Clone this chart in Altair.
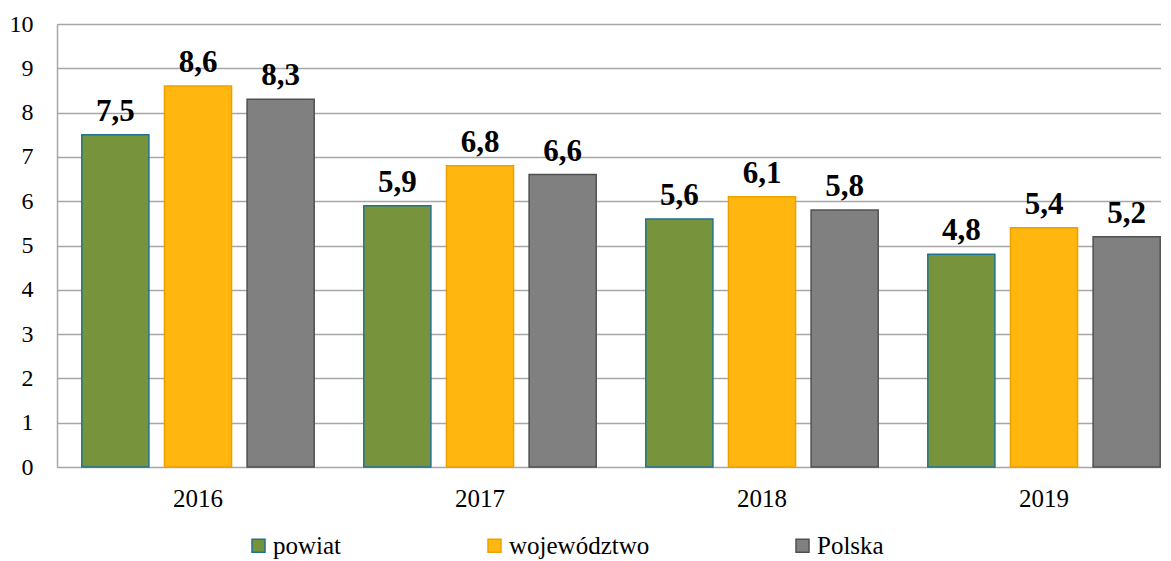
import altair as alt
import pandas as pd

years = ["2016", "2017", "2018", "2019"]
series = ["powiat", "województwo", "Polska"]
powiat = [7.5, 5.9, 5.6, 4.8]
wojewodztwo = [8.6, 6.8, 6.1, 5.4]
polska = [8.3, 6.6, 5.8, 5.2]

fills = ["#77933C", "#FFB60F", "#808080"]
strokes = ["#1F7391", "#EBA200", "#505050"]

rows = []
for name, vals in zip(series, [powiat, wojewodztwo, polska]):
    for y, v in zip(years, vals):
        rows.append({"rok": y, "seria": name, "wartosc": v,
                     "etykieta": f"{v:.1f}".replace(".", ",")})
df = pd.DataFrame(rows)

SERIF = "'Liberation Serif', 'Times New Roman', serif"

x_enc = alt.X("rok:N", sort=years, title=None,
              scale=alt.Scale(range=[0, 1128], paddingInner=0, paddingOuter=0),
              axis=alt.Axis(labelAngle=0, domain=False, ticks=False, labelPadding=19,
                            labelFont=SERIF, labelFontSize=25, labelColor="#000000"))
xoff = alt.XOffset("seria:N", sort=series,
                   scale=alt.Scale(paddingInner=0.188, paddingOuter=0.3))
y_enc = alt.Y("wartosc:Q", title=None,
              scale=alt.Scale(domain=[0, 10], nice=False),
              axis=alt.Axis(values=list(range(0, 11)), ticks=False, labelPadding=24,
                            domain=True, domainColor="#A6A6A6", domainWidth=1.5,
                            grid=True, gridColor="#A6A6A6", gridWidth=1.5,
                            labelFont=SERIF, labelFontSize=24, labelColor="#000000"))

bars = alt.Chart(df).mark_bar(strokeWidth=1.5).encode(
    x=x_enc,
    xOffset=xoff,
    y=y_enc,
    fill=alt.Fill("seria:N", sort=series,
                  scale=alt.Scale(domain=series, range=fills),
                  legend=alt.Legend(title=None, orient="none", direction="horizontal",
                                    legendX=189, legendY=509,
                                    symbolType="square", symbolSize=169,
                                    symbolStrokeWidth=1.5, symbolOpacity=1,
                                    labelFont=SERIF, labelFontSize=25,
                                    labelColor="#000000", labelOffset=2,
                                    columnPadding=140, labelLimit=400)),
    stroke=alt.Stroke("seria:N", sort=series,
                      scale=alt.Scale(domain=series, range=strokes)),
)

labels = alt.Chart(df).mark_text(
    font=SERIF, fontSize=31, fontWeight="bold", color="#000000",
    baseline="alphabetic", dy=-14
).encode(
    x=alt.X("rok:N", sort=years),
    xOffset=alt.XOffset("seria:N", sort=series),
    y=alt.Y("wartosc:Q"),
    text="etykieta:N",
)

chart = alt.layer(bars, labels).properties(
    width=1104, height=443,
    autosize=alt.AutoSizeParams(type="none"),
    padding={"left": 49, "top": 16, "right": 0, "bottom": 92},
).configure_view(stroke=None).configure(background="#FFFFFF")

chart.save("out.html", embed_options={"renderer": "svg", "actions": False})
